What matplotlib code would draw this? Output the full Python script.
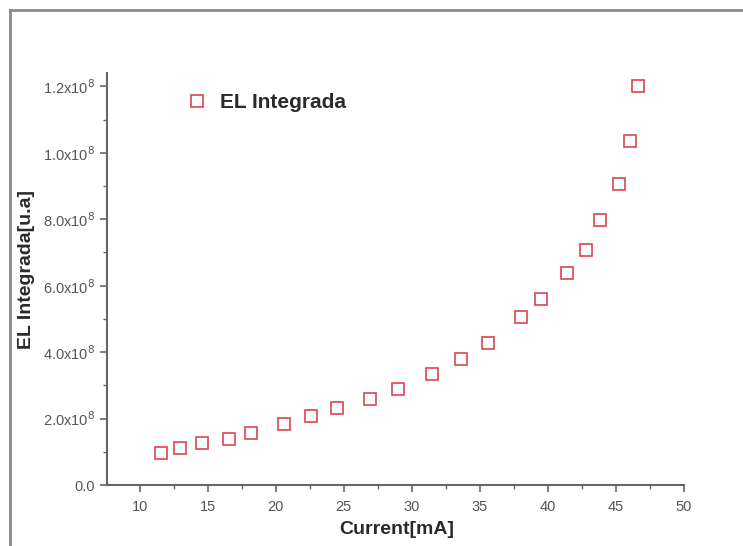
import matplotlib
matplotlib.use("Agg")
import matplotlib.pyplot as plt
from matplotlib.ticker import MultipleLocator
from matplotlib.lines import Line2D

plt.rcParams['font.family'] = ['Liberation Sans', 'DejaVu Sans']

# data
current = [11.6, 13.0, 14.6, 16.6, 18.2, 20.6, 22.6, 24.5, 26.9, 29.0,
           31.5, 33.6, 35.6, 38.0, 39.5, 41.4, 42.8, 43.8, 45.2, 46.0, 46.6]
el = [0.095, 0.110, 0.125, 0.138, 0.157, 0.185, 0.209, 0.232, 0.260, 0.290,
      0.334, 0.380, 0.427, 0.505, 0.560, 0.638, 0.707, 0.797, 0.907, 1.035, 1.20]
el = [v * 1e8 for v in el]

yticks = [0, 0.2e8, 0.4e8, 0.6e8, 0.8e8, 1.0e8, 1.2e8]
ytick_labels = ["0.0", r"2.0x10$^8$", r"4.0x10$^8$", r"6.0x10$^8$",
                r"8.0x10$^8$", r"1.0x10$^8$", r"1.2x10$^8$"]
xticks = [10, 15, 20, 25, 30, 35, 40, 45, 50]

red = "#d9474f"
axis_col = "#666666"

fig = plt.figure(figsize=(7.43, 5.46), dpi=100)
ax = fig.add_axes([0.144, 0.1117, 0.7766, 0.7546])

ax.plot(current, el, linestyle="none", marker="s", markersize=8,
        markerfacecolor="none", markeredgecolor=red, markeredgewidth=1.2)

ax.set_xlim(7.6, 50)
ax.set_ylim(0, 1.24e8)
ax.set_xticks(xticks)
ax.xaxis.set_minor_locator(MultipleLocator(2.5))
ax.set_yticks(yticks)
ax.set_yticklabels(ytick_labels)
ax.yaxis.set_minor_locator(MultipleLocator(0.1e8))

for s in ["top", "right"]:
    ax.spines[s].set_visible(False)
for s in ["left", "bottom"]:
    ax.spines[s].set_color(axis_col)
    ax.spines[s].set_linewidth(1.5)

ax.tick_params(which="major", direction="out", length=5, width=1.2,
               colors=axis_col, labelcolor="#555555", labelsize=10.5)
ax.tick_params(which="minor", direction="out", length=3, width=1.0,
               colors=axis_col)
ax.tick_params(axis="x", which="major", pad=5.5)

ax.set_xlabel("Current[mA]", fontsize=14, fontweight="bold", color="#2a2a2a")
ax.set_ylabel("EL Integrada[u.a]", fontsize=14, fontweight="bold",
              color="#2a2a2a")
ax.xaxis.set_label_coords(0.503, -0.087)
ax.yaxis.set_label_coords(-0.124, 0.522)

handle = Line2D([], [], linestyle="none", marker="s", markersize=8,
                markerfacecolor="none", markeredgecolor=red,
                markeredgewidth=1.2)
ax.legend([handle], ["EL Integrada"], loc="center left",
          bbox_to_anchor=(0.135, 0.928), frameon=False,
          prop={"size": 15, "weight": "bold"}, borderpad=0, borderaxespad=0,
          handletextpad=0.5, handlelength=1.2, labelcolor="#2a2a2a")

# grey frame around the figure (left and top only)
fig.add_artist(Line2D([0.013, 0.013], [0, 0.981], color="#8a8a8a", lw=2))
fig.add_artist(Line2D([0.013, 1.0], [0.981, 0.981], color="#8a8a8a", lw=2))

fig.savefig("out.png", dpi=100)
